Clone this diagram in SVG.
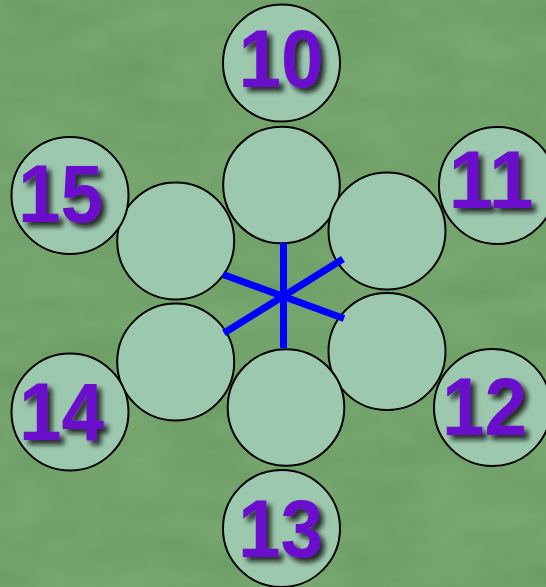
<svg xmlns="http://www.w3.org/2000/svg" width="546" height="587" viewBox="0 0 546 587">
<defs>
<style>
.c{fill:#9cc8ae;stroke:#000;stroke-width:2}
.t{font-family:"Liberation Sans",Arial,sans-serif;font-weight:bold;font-size:82px;fill:#6a0acc;text-anchor:middle;filter:url(#sh)}
.l{stroke:#0000ff;stroke-width:7;fill:none}
</style>
<filter id="sh" x="-20%" y="-20%" width="150%" height="150%">
<feDropShadow dx="4.5" dy="4.5" stdDeviation="2.6" flood-color="#111" flood-opacity="0.85"/>
</filter>
<filter id="tex" x="0" y="0" width="100%" height="100%">
<feTurbulence type="fractalNoise" baseFrequency="0.012 0.03" numOctaves="3" seed="4" result="n"/>
<feColorMatrix in="n" type="matrix" values="0 0 0 0 0.45  0 0 0 0 0.68  0 0 0 0 0.42  0 0 0 0.5 -0.05"/>
</filter>
</defs>
<rect width="546" height="587" fill="#6a9c62"/>
<rect width="546" height="587" filter="url(#tex)" opacity="0.6"/>
<g id="inner-top"><circle class="c" cx="281.5" cy="185" r="58.3"/></g>
<g id="inner-upper-right"><circle class="c" cx="387" cy="231" r="58.5"/></g>
<g id="inner-lower-right"><circle class="c" cx="387" cy="351.5" r="58.5"/></g>
<g id="inner-bottom"><circle class="c" cx="286" cy="407.5" r="58.3"/></g>
<g id="inner-lower-left"><circle class="c" cx="175.7" cy="362" r="58.5"/></g>
<g id="inner-upper-left"><circle class="c" cx="175.7" cy="241" r="58.5"/></g>
<g id="connectors">
<line class="l" x1="283.5" y1="243" x2="283.5" y2="348"/>
<line class="l" x1="223" y1="274.5" x2="344" y2="318.5"/>
<line class="l" x1="224" y1="333" x2="343" y2="259"/>
</g>
<g id="n10"><circle class="c" cx="281.5" cy="63" r="58.5"/><text class="t" x="281" y="87" textLength="85" lengthAdjust="spacingAndGlyphs">10</text></g>
<g id="n11"><circle class="c" cx="497.5" cy="185.5" r="58.5"/><text class="t" x="491" y="208" textLength="85" lengthAdjust="spacingAndGlyphs">11</text></g>
<g id="n12"><circle class="c" cx="492.5" cy="407.5" r="58.5"/><text class="t" x="484.5" y="435" textLength="85" lengthAdjust="spacingAndGlyphs">12</text></g>
<g id="n13"><circle class="c" cx="281.5" cy="528.5" r="58.5"/><text class="t" x="280.5" y="556.5" textLength="85" lengthAdjust="spacingAndGlyphs">13</text></g>
<g id="n14"><circle class="c" cx="70" cy="412" r="58.5"/><text class="t" x="61.5" y="440" textLength="85" lengthAdjust="spacingAndGlyphs">14</text></g>
<g id="n15"><circle class="c" cx="70" cy="195.5" r="58.5"/><text class="t" x="60.5" y="221.5" textLength="85" lengthAdjust="spacingAndGlyphs">15</text></g>
</svg>
